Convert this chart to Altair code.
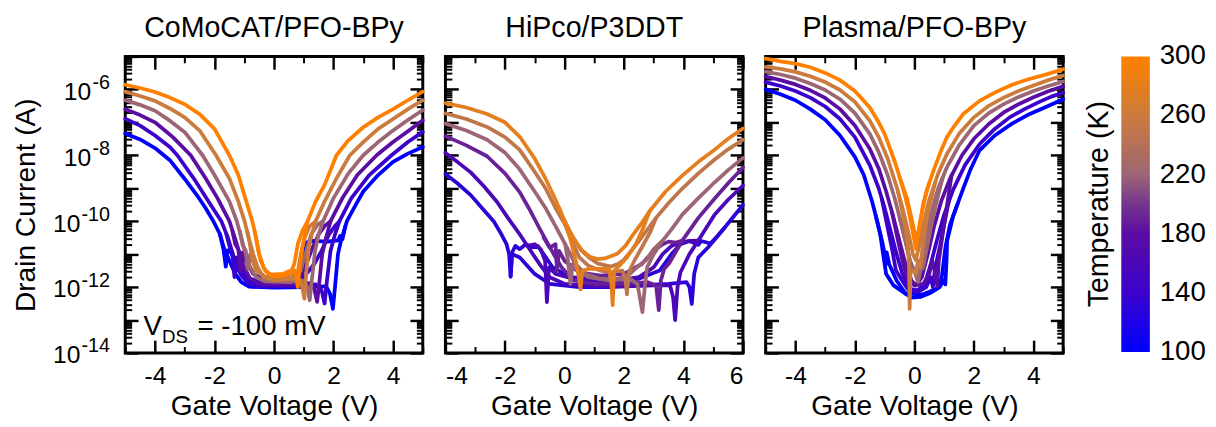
import altair as alt
import pandas as pd

FONT = "Liberation Sans, Arial, Helvetica, sans-serif"

# ---------------- colour scale (temperature, K) ----------------
TEMP_STOPS = [100, 140, 180, 200, 220, 260, 300]
TEMP_COLORS = ["#0000ff", "#3c02cc", "#5a0ca4", "#76358e", "#9c6674", "#cb7b3c", "#ff8000"]
# end labels nudged a hair inside the range so they are centred on the bar ends
LEGEND_VALUES = [100.001, 140, 180, 220, 260, 299.999]

# ---------------- axis tick values ----------------
Y_LABELS_ONE_DIGIT = [1e-8, 1e-6]
Y_LABELS_TWO_DIGIT = [1e-14, 1e-12, 1e-10]
Y_LABEL_VALS = [1e-14, 1e-12, 1e-10, 1e-8, 1e-6]
Y_MAJOR = [1e-14, 1e-13, 1e-12, 1e-11, 1e-10, 1e-9, 1e-8, 1e-7, 1e-6, 1e-5]
Y_MINOR = [k * 10.0 ** n for n in range(-14, -5) for k in range(2, 10)]
CMC_X_MAJOR = [-4, -2, 0, 2, 4]
CMC_X_MINOR = [-5, -3, -1, 1, 3, 5]
HIP_X_MAJOR = [-4, -2, 0, 2, 4, 6]
HIP_X_MINOR = [-3, -1, 1, 3, 5]
PLA_X_MAJOR = [-4, -2, 0, 2, 4]
PLA_X_MINOR = [-5, -3, -1, 1, 3, 5]

# annotation anchor (gate voltage, log10 current)
VDS_V = -4.39
VDS_LOGI = -13.45

# ================= Panel 1: CoMoCAT/PFO-BPy  (V_G, log10 I_D) =================
CMC_TEMPS = [100, 140, 180, 220, 260, 300]
CMC_100_A = [(-5.0, -7.34), (-4.5, -7.52), (-4.0, -7.78), (-3.5, -8.15), (-3.0, -8.72), (-2.6, -9.2),
             (-2.3, -9.6), (-2.04, -10.0), (-1.82, -10.39), (-1.69, -10.79), (-1.5, -11.2), (-1.3, -11.6),
             (-1.1, -11.85), (-0.84, -11.99), (0.0, -12.02), (1.0, -12.0), (1.75, -11.98), (1.88, -12.2),
             (1.98, -12.66), (2.06, -11.9), (2.15, -11.0), (2.25, -10.6), (2.35, -10.3), (2.45, -10.0),
             (2.75, -9.5), (3.0, -9.1), (3.5, -8.6), (4.0, -8.2), (4.5, -7.95), (5.0, -7.75)]
CMC_100_B = [(-1.82, -10.39), (-1.7, -10.85), (-1.62, -11.38), (-1.56, -10.9), (-1.48, -10.85), (-1.38, -11.1),
             (-1.2, -11.5), (-0.9, -11.8), (-0.4, -11.9), (0.5, -11.9), (0.9, -11.8), (1.0, -11.3),
             (1.08, -10.65), (1.3, -10.6), (1.8, -10.62), (2.15, -10.58), (2.22, -10.45), (2.3, -10.55), (2.4, -10.15)]
CMC_140_A = [(-5.0, -6.89), (-4.5, -7.1), (-4.0, -7.4), (-3.5, -7.75), (-3.25, -8.0), (-2.7, -8.7),
             (-2.2, -9.4), (-1.77, -10.0), (-1.55, -10.5), (-1.45, -10.8), (-1.3, -11.25), (-1.1, -11.65),
             (-0.85, -11.9), (-0.5, -11.98), (0.5, -11.97), (1.4, -11.92), (1.6, -12.1), (1.7, -12.5),
             (1.78, -11.8), (1.9, -10.9), (2.05, -10.4), (2.2, -10.0), (2.6, -9.3), (3.2, -8.6),
             (3.95, -8.0), (4.5, -7.6), (5.0, -7.29)]
CMC_140_B = [(-1.6, -10.4), (-1.5, -10.75), (-1.4, -10.95), (-1.33, -11.7), (-1.26, -11.1), (-1.15, -11.3),
             (-0.9, -11.7), (-0.5, -11.85), (0.6, -11.85), (1.0, -11.7), (1.35, -11.3), (1.6, -10.9),
             (1.85, -10.4), (2.05, -10.15), (2.2, -10.0)]
CMC_180_A = [(-5.0, -6.6), (-4.5, -6.78), (-4.0, -7.0), (-3.4, -7.45), (-2.8, -8.0), (-2.3, -8.7),
             (-1.9, -9.3), (-1.5, -10.0), (-1.3, -10.55), (-1.15, -11.0), (-1.0, -11.4), (-0.8, -11.75),
             (-0.5, -11.9), (0.5, -11.92), (1.2, -11.88), (1.35, -12.05), (1.45, -12.45), (1.53, -11.8),
             (1.62, -11.0), (1.75, -10.5), (1.9, -10.0), (2.3, -9.3), (2.8, -8.6), (3.45, -8.0),
             (4.0, -7.6), (4.5, -7.27), (5.0, -6.94)]
CMC_180_B = [(-1.4, -10.3), (-1.3, -10.7), (-1.2, -10.85), (-1.12, -11.5), (-1.05, -10.95), (-0.95, -11.2),
             (-0.7, -11.6), (-0.3, -11.8), (0.8, -11.8), (1.05, -11.4), (1.25, -10.9), (1.5, -10.4),
             (1.7, -10.15), (1.9, -10.0)]
CMC_220_A = [(-5.0, -6.33), (-4.5, -6.47), (-4.0, -6.65), (-3.5, -6.95), (-3.0, -7.3), (-2.4, -8.0),
             (-2.0, -8.6), (-1.5, -9.4), (-1.25, -10.0), (-1.1, -10.5), (-0.95, -11.0), (-0.8, -11.4),
             (-0.6, -11.7), (-0.3, -11.83), (0.5, -11.85), (1.0, -11.8), (1.12, -12.0), (1.2, -12.4),
             (1.28, -11.7), (1.38, -10.9), (1.5, -10.4), (1.65, -10.0), (2.0, -9.3), (2.5, -8.55),
             (3.0, -8.0), (3.5, -7.6), (4.0, -7.25), (4.5, -6.93), (5.0, -6.63)]
CMC_220_B = [(-1.15, -10.3), (-1.05, -10.75), (-0.95, -10.9), (-0.88, -11.45), (-0.8, -11.0), (-0.6, -11.45),
             (-0.3, -11.7), (0.6, -11.75), (0.9, -11.5), (1.05, -11.0), (1.25, -10.4), (1.45, -10.12), (1.65, -10.0)]
CMC_260_A = [(-5.0, -6.07), (-4.5, -6.2), (-4.0, -6.35), (-3.5, -6.58), (-3.0, -6.85), (-2.5, -7.25),
             (-1.95, -8.0), (-1.5, -8.7), (-1.2, -9.4), (-0.99, -10.0), (-0.85, -10.5), (-0.7, -11.0),
             (-0.55, -11.4), (-0.35, -11.7), (0.0, -11.8), (0.6, -11.75), (0.9, -11.8), (0.97, -12.1),
             (1.02, -12.35), (1.08, -11.6), (1.17, -10.8), (1.27, -10.4), (1.4, -10.0), (1.7, -9.4),
             (2.1, -8.7), (2.55, -8.0), (3.0, -7.6), (3.5, -7.2), (4.0, -6.9), (4.5, -6.6), (5.0, -6.33)]
CMC_260_B = [(-0.9, -10.3), (-0.8, -10.75), (-0.72, -11.2), (-0.6, -11.5), (-0.3, -11.7), (0.5, -11.65),
             (0.8, -11.55), (0.9, -11.0), (1.05, -10.45), (1.2, -10.15), (1.4, -10.0)]
CMC_300_A = [(-5.0, -5.86), (-4.5, -5.96), (-4.0, -6.08), (-3.5, -6.25), (-3.0, -6.45), (-2.5, -6.75),
             (-2.0, -7.2), (-1.5, -8.0), (-1.2, -8.6), (-1.0, -9.2), (-0.73, -10.0), (-0.6, -10.5),
             (-0.5, -11.0), (-0.35, -11.4), (-0.2, -11.6), (0.0, -11.68), (0.3, -11.65), (0.55, -11.58),
             (0.7, -11.5), (0.76, -11.75), (0.8, -12.0), (0.85, -11.5), (0.95, -10.8), (1.05, -10.35),
             (1.13, -10.0), (1.4, -9.4), (1.7, -8.9), (2.1, -8.0), (2.5, -7.55), (3.0, -7.15),
             (3.5, -6.85), (4.0, -6.6), (4.5, -6.33), (5.0, -6.07)]
CMC_300_B = [(-0.65, -10.3), (-0.55, -10.8), (-0.45, -11.2), (-0.3, -11.5), (-0.1, -11.62), (0.3, -11.6),
             (0.6, -11.48), (0.68, -11.3), (0.8, -10.7), (0.95, -10.3), (1.13, -10.0)]

# ================= Panel 2: HiPco/P3DDT =================
HIP_TEMPS = [130, 160, 190, 220, 250, 280]
HIP_130_A = [(-4.0, -8.57), (-3.6, -8.85), (-3.15, -9.21), (-2.75, -9.62), (-2.38, -10.0), (-2.15, -10.35),
             (-1.95, -10.69), (-1.86, -11.0), (-1.81, -11.68), (-1.76, -11.0), (-1.5, -11.1), (-1.0, -11.6),
             (-0.5, -11.9), (0.5, -12.0), (1.5, -12.0), (2.5, -11.95), (3.5, -11.9), (4.1, -11.85),
             (4.2, -12.0), (4.28, -12.51), (4.36, -11.6), (4.5, -11.1), (4.83, -10.79), (5.38, -10.2), (6.0, -9.51)]
HIP_130_B = [(-1.81, -11.68), (-1.76, -10.95), (-1.65, -10.75), (-1.5, -10.85), (-1.3, -10.7), (-1.1, -10.8),
             (-0.9, -10.75), (-0.7, -11.0), (-0.4, -11.4), (0.2, -11.7), (1.5, -11.8), (2.5, -11.75),
             (3.2, -11.5), (3.6, -11.0), (3.9, -10.7), (4.2, -10.6), (4.5, -10.72), (4.6, -10.6),
             (4.9, -10.68), (5.1, -10.5), (5.38, -10.2)]
HIP_160_A = [(-4.0, -7.93), (-3.6, -8.2), (-3.15, -8.52), (-2.7, -8.95), (-2.27, -9.41), (-1.9, -9.9),
             (-1.51, -10.39), (-1.07, -10.99), (-0.8, -11.35), (-0.5, -11.7), (0.0, -11.9), (1.0, -11.98),
             (2.0, -11.98), (3.0, -11.95), (3.55, -11.95), (3.65, -12.3), (3.72, -13.0), (3.8, -12.0),
             (3.9, -11.55), (4.2, -11.0), (4.5, -10.59), (5.05, -9.8), (5.5, -9.35), (6.0, -8.92)]
HIP_160_B = [(-1.25, -10.75), (-1.0, -10.7), (-0.8, -10.85), (-0.65, -11.2), (-0.59, -12.46), (-0.52, -11.4),
             (-0.3, -11.6), (0.5, -11.8), (1.5, -11.85), (2.5, -11.7), (3.0, -11.4), (3.3, -11.0),
             (3.6, -10.75), (3.9, -10.65), (4.2, -10.6), (4.5, -10.59)]
HIP_190_A = [(-4.0, -7.42), (-3.3, -7.7), (-2.6, -8.03), (-2.0, -8.55), (-1.51, -9.11), (-1.2, -9.6),
             (-0.85, -10.2), (-0.55, -10.7), (-0.31, -11.08), (-0.1, -11.4), (0.3, -11.8), (1.0, -11.9),
             (2.0, -11.9), (2.8, -11.85), (3.08, -11.95), (3.17, -12.7), (3.24, -11.8), (3.35, -11.45),
             (3.52, -11.28), (3.96, -10.59), (4.5, -9.9), (5.05, -9.31), (5.5, -8.85), (6.0, -8.37)]
HIP_190_B = [(-0.7, -10.5), (-0.5, -10.8), (-0.3, -10.7), (-0.25, -11.5), (-0.18, -10.9), (0.0, -11.2),
             (0.5, -11.55), (1.2, -11.65), (2.0, -11.6), (2.6, -11.3), (3.0, -10.9), (3.3, -10.7),
             (3.5, -10.62), (3.75, -10.65), (3.96, -10.59)]
HIP_220_A = [(-4.0, -7.04), (-3.3, -7.25), (-2.6, -7.53), (-2.0, -7.92), (-1.51, -8.42), (-1.0, -9.1),
             (-0.63, -9.61), (-0.3, -10.15), (0.02, -10.69), (0.35, -11.28), (0.7, -11.6), (1.2, -11.75),
             (1.8, -11.75), (2.2, -11.6), (2.5, -11.35), (2.75, -11.18), (3.0, -10.85), (3.3, -10.59),
             (3.6, -10.25), (3.96, -9.8), (4.5, -9.3), (5.05, -8.82), (5.5, -8.45), (6.0, -8.08)]
HIP_220_B = [(0.02, -10.69), (0.12, -11.2), (0.2, -11.9), (0.28, -11.3), (0.5, -11.55), (0.8, -11.7),
             (1.5, -11.8), (2.2, -11.75), (2.45, -11.9), (2.55, -12.4), (2.62, -12.76), (2.7, -12.0),
             (2.78, -11.4), (3.0, -11.0), (3.3, -10.59)]
HIP_250_A = [(-4.0, -6.73), (-3.3, -6.9), (-2.6, -7.14), (-2.0, -7.45), (-1.51, -7.83), (-1.0, -8.5),
             (-0.63, -9.01), (-0.3, -9.6), (0.02, -10.1), (0.3, -10.5), (0.57, -10.89), (0.85, -11.12),
             (1.11, -11.28), (1.55, -11.38), (1.8, -11.3), (1.99, -11.18), (2.2, -10.95), (2.43, -10.69),
             (2.75, -10.3), (3.08, -9.9), (3.5, -9.45), (3.96, -9.01), (4.5, -8.55), (5.05, -8.13),
             (5.5, -7.82), (6.0, -7.53)]
HIP_250_B = [(0.02, -10.1), (0.3, -10.7), (0.5, -11.1), (0.8, -11.35), (1.2, -11.5), (1.6, -11.55),
             (1.95, -11.5), (2.05, -11.8), (2.1, -12.22), (2.16, -11.55), (2.35, -11.2), (2.6, -10.8),
             (2.9, -10.3), (3.08, -9.9)]
HIP_280_A = [(-4.0, -6.42), (-3.3, -6.55), (-2.6, -6.75), (-2.0, -7.0), (-1.5, -7.44), (-1.0, -8.1),
             (-0.63, -8.72), (-0.3, -9.35), (-0.09, -9.8), (0.15, -10.25), (0.35, -10.59), (0.6, -10.9),
             (0.85, -11.08), (1.11, -11.15), (1.4, -11.12), (1.77, -10.99), (2.05, -10.75), (2.32, -10.39),
             (2.6, -10.05), (2.86, -9.7), (3.4, -9.1), (3.96, -8.62), (4.5, -8.2), (5.05, -7.83),
             (5.5, -7.5), (6.0, -7.19)]
HIP_280_B = [(-0.2, -9.56), (0.0, -10.0), (0.2, -10.55), (0.38, -11.2), (0.48, -11.7), (0.54, -12.07),
             (0.6, -11.5), (0.8, -11.45), (1.2, -11.45), (1.5, -11.45), (1.58, -11.9), (1.62, -12.55),
             (1.67, -11.5), (1.8, -11.4), (2.1, -11.1), (2.4, -10.7), (2.65, -10.2), (2.86, -9.7)]

# ================= Panel 3: Plasma/PFO-BPy =================
PLA_TEMPS = [100, 140, 180, 220, 260, 300]
PLA_100_A = [(-5.0, -6.0), (-4.5, -6.15), (-4.0, -6.33), (-3.5, -6.6), (-3.0, -6.92), (-2.5, -7.4),
             (-2.0, -8.05), (-1.7, -8.6), (-1.42, -9.41), (-1.25, -10.0), (-1.09, -10.59), (-1.02, -10.9),
             (-0.98, -11.38), (-0.93, -10.95), (-0.85, -11.3), (-0.6, -11.8), (-0.3, -12.2), (-0.1, -12.32),
             (0.2, -12.3), (0.55, -12.17), (0.85, -12.0), (0.98, -11.8), (1.04, -11.92), (1.08, -11.2),
             (1.1, -10.6), (1.3, -9.85), (1.64, -9.01), (1.9, -8.4), (2.19, -7.85), (2.7, -7.4),
             (3.28, -7.04), (3.8, -6.78), (4.38, -6.55), (5.0, -6.3)]
PLA_100_B = [(-1.3, -9.83), (-1.15, -10.4), (-1.05, -11.0), (-0.95, -11.6), (-0.7, -11.95), (-0.3, -12.2),
             (0.3, -12.22), (0.75, -12.05), (0.92, -11.7), (1.0, -11.1), (1.05, -10.75), (1.2, -10.1), (1.45, -9.48)]
PLA_140_A = [(-5.0, -5.78), (-4.5, -5.9), (-4.0, -6.05), (-3.5, -6.25), (-3.0, -6.52), (-2.5, -6.9),
             (-2.0, -7.45), (-1.5, -8.3), (-1.2, -9.0), (-1.0, -9.6), (-0.8, -10.3), (-0.6, -11.0),
             (-0.4, -11.6), (-0.15, -12.05), (0.1, -12.1), (0.35, -11.9), (0.55, -11.3), (0.75, -10.6),
             (1.0, -9.8), (1.3, -9.05), (1.7, -8.3), (2.2, -7.65), (2.7, -7.2), (3.2, -6.85),
             (3.7, -6.6), (4.2, -6.38), (4.6, -6.22), (5.0, -6.1)]
PLA_140_B = [(-1.1, -9.3), (-0.9, -10.2), (-0.75, -10.85), (-0.62, -11.5), (-0.45, -11.75), (-0.2, -12.1),
             (0.1, -12.15), (0.4, -12.0), (0.55, -11.7), (0.62, -12.0), (0.7, -11.4), (0.85, -10.8),
             (1.0, -10.1), (1.15, -9.42)]
PLA_180_A = [(-5.0, -5.61), (-4.5, -5.72), (-4.0, -5.85), (-3.5, -6.03), (-3.0, -6.26), (-2.5, -6.6),
             (-2.0, -7.1), (-1.5, -7.8), (-1.2, -8.4), (-0.95, -9.1), (-0.7, -9.9), (-0.5, -10.6),
             (-0.3, -11.3), (-0.1, -11.8), (0.05, -11.95), (0.25, -11.7), (0.45, -11.0), (0.65, -10.2),
             (0.9, -9.4), (1.2, -8.7), (1.6, -8.0), (2.0, -7.5), (2.5, -7.05), (3.0, -6.7),
             (3.5, -6.45), (4.0, -6.24), (4.5, -6.06), (5.0, -5.91)]
PLA_180_B = [(-0.75, -9.75), (-0.55, -10.6), (-0.4, -11.2), (-0.25, -11.7), (0.0, -11.95), (0.3, -11.9),
             (0.5, -11.6), (0.6, -11.2), (0.68, -11.5), (0.77, -11.97), (0.82, -11.2), (0.95, -10.4),
             (1.1, -9.5), (1.25, -8.6)]
PLA_220_A = [(-5.0, -5.46), (-4.5, -5.55), (-4.0, -5.66), (-3.5, -5.82), (-3.0, -6.02), (-2.5, -6.3),
             (-2.0, -6.72), (-1.5, -7.35), (-1.2, -7.9), (-0.9, -8.6), (-0.65, -9.35), (-0.45, -10.05),
             (-0.25, -10.8), (-0.1, -11.4), (0.05, -11.6), (0.2, -11.3), (0.35, -10.6), (0.55, -9.8),
             (0.8, -9.0), (1.1, -8.35), (1.5, -7.7), (2.0, -7.1), (2.5, -6.72), (3.0, -6.45),
             (3.5, -6.23), (4.0, -6.05), (4.5, -5.9), (5.0, -5.76)]
PLA_220_B = [(-0.5, -9.88), (-0.3, -10.6), (-0.15, -11.2), (0.0, -11.5), (0.12, -11.85), (0.2, -11.5),
             (0.3, -11.4), (0.4, -10.9), (0.6, -10.0), (0.8, -9.2), (0.95, -8.68)]
PLA_260_A = [(-5.0, -5.32), (-4.5, -5.38), (-4.0, -5.47), (-3.5, -5.6), (-3.0, -5.78), (-2.5, -6.02),
             (-2.0, -6.38), (-1.5, -6.95), (-1.2, -7.45), (-0.9, -8.1), (-0.6, -8.95), (-0.4, -9.6),
             (-0.2, -10.35), (-0.05, -11.0), (0.05, -11.18), (0.15, -10.8), (0.3, -10.1), (0.5, -9.35),
             (0.8, -8.55), (1.1, -7.95), (1.5, -7.35), (2.0, -6.85), (2.5, -6.5), (3.0, -6.25),
             (3.5, -6.05), (4.0, -5.88), (4.5, -5.72), (5.0, -5.58)]
PLA_260_B = [(-0.55, -9.11), (-0.35, -9.95), (-0.22, -10.7), (-0.18, -11.4), (-0.16, -12.66), (-0.13, -11.5),
             (-0.05, -11.5), (0.05, -11.6), (0.12, -11.2), (0.2, -11.4), (0.3, -10.6), (0.45, -9.75), (0.7, -8.82)]
PLA_300_A = [(-5.0, -5.07), (-4.5, -5.15), (-4.0, -5.22), (-3.5, -5.33), (-3.0, -5.5), (-2.5, -5.72),
             (-2.0, -6.05), (-1.5, -6.55), (-1.2, -7.0), (-1.0, -7.35), (-0.65, -8.22), (-0.4, -8.95),
             (-0.21, -9.61), (-0.08, -10.2), (0.0, -10.6), (0.05, -10.84), (0.12, -10.4), (0.22, -9.9),
             (0.4, -9.1), (0.66, -8.42), (0.9, -7.85), (1.1, -7.44), (1.32, -7.14), (1.64, -6.75),
             (2.19, -6.35), (2.7, -6.1), (3.28, -5.86), (3.8, -5.7), (4.38, -5.56), (5.0, -5.39)]
PLA_300_B = [(-0.5, -8.66), (-0.25, -9.3), (-0.1, -9.9), (0.02, -10.4), (0.1, -10.5), (0.18, -10.1),
             (0.3, -9.45), (0.5, -8.84)]

W, H = 302, 301
LABEL_PAD = 16
TICK_FS = 25
EXP_FS = 20
TITLE_FS = 28.5


def build(temps, a_lists, b_lists):
    rows = []
    for T, a, b in zip(temps, a_lists, b_lists):
        for br, pts in (("b", b), ("a", a)):
            for i, (v, lg) in enumerate(pts):
                rows.append({"T": T, "s": f"{T}{br}", "i": i, "V": v, "I": 10.0 ** lg})
    return pd.DataFrame(rows)


cmc_df = build(CMC_TEMPS, [CMC_100_A, CMC_140_A, CMC_180_A, CMC_220_A, CMC_260_A, CMC_300_A],
               [CMC_100_B, CMC_140_B, CMC_180_B, CMC_220_B, CMC_260_B, CMC_300_B])
hip_df = build(HIP_TEMPS, [HIP_130_A, HIP_160_A, HIP_190_A, HIP_220_A, HIP_250_A, HIP_280_A],
               [HIP_130_B, HIP_160_B, HIP_190_B, HIP_220_B, HIP_250_B, HIP_280_B])
pla_df = build(PLA_TEMPS, [PLA_100_A, PLA_140_A, PLA_180_A, PLA_220_A, PLA_260_A, PLA_300_A],
               [PLA_100_B, PLA_140_B, PLA_180_B, PLA_220_B, PLA_260_B, PLA_300_B])

color_scale = alt.Scale(domain=TEMP_STOPS, range=TEMP_COLORS, interpolate="rgb")
legend = alt.Legend(
    title="Temperature (K)", type="gradient", direction="vertical",
    gradientLength=300, gradientThickness=29, gradientStrokeWidth=0,
    values=LEGEND_VALUES, format="d", titleOrient="left", titleAnchor="middle",
    titleFontSize=29, titleFont=FONT, titleFontWeight="normal", titleColor="black",
    titleLimit=500, titlePadding=7, labelFontSize=28, labelFont=FONT, labelColor="black",
    labelOffset=10, offset=18, labelOverlap=False,
)

EXP_EXPR = ("datum.value < 1e-13 ? '-14' : datum.value < 1e-11 ? '-12' : "
            "datum.value < 1e-9 ? '-10' : datum.value < 1e-7 ? '-8' : '-6'")


def y_label_axis(values, expr, pad, size, offset, title=None):
    kw = dict(values=values, labelExpr=expr, ticks=False, tickSize=0, domain=False, grid=False,
              labelPadding=pad, labelFontSize=size, labelOffset=offset, orient="left")
    if title:
        kw.update(title=title, titlePadding=12, titleFontSize=TITLE_FS, titleFontWeight="normal")
    else:
        kw.update(title=None)
    return alt.Axis(**kw)


def panel(df, xdom, xmaj, xmin, title, first):
    xs = alt.Scale(domain=xdom, nice=False, zero=False)
    ys = alt.Scale(type="log", domain=[1e-14, 1e-5], nice=False)
    dummy = pd.DataFrame({"V": [xdom[0]], "I": [1e-10]})
    if first:
        y_enc = alt.Y("I:Q", scale=ys, axis=y_label_axis(Y_LABELS_ONE_DIGIT, "'10'", LABEL_PAD + 19, TICK_FS, 2))
    else:
        y_enc = alt.Y("I:Q", scale=ys, axis=None)
    lines = alt.Chart(df).mark_line(strokeWidth=3.8, strokeJoin="round", strokeCap="round").encode(
        x=alt.X("V:Q", scale=xs, axis=alt.Axis(values=xmaj, labelExpr="'' + datum.value", ticks=False,
                                                tickSize=0, domain=False, grid=False, labelPadding=11,
                                                labelFontSize=TICK_FS, title="Gate Voltage (V)",
                                                titlePadding=3, titleFontSize=TITLE_FS,
                                                titleFontWeight="normal")),
        y=y_enc,
        color=alt.Color("T:Q", scale=color_scale, legend=legend),
        detail="s:N",
        order="i:Q",
    )
    layers = [lines]
    for xo, yo, xv, yv, sz, w in [("top", "right", xmaj, Y_MAJOR, 13, 2.5),
                                  ("top", "right", xmin, Y_MINOR, 6.5, 2),
                                  ("bottom", "left", xmaj, Y_MAJOR, 13, 2.5),
                                  ("bottom", "left", xmin, Y_MINOR, 6.5, 2)]:
        layers.append(alt.Chart(dummy).mark_point(opacity=0).encode(
            x=alt.X("V:Q", scale=xs, axis=alt.Axis(orient=xo, offset=-H, values=xv, tickSize=sz,
                                                    tickWidth=w, tickColor="black", labels=False,
                                                    domain=False, grid=False, title=None)),
            y=alt.Y("I:Q", scale=ys, axis=alt.Axis(orient=yo, offset=-W, values=yv, tickSize=sz,
                                                    tickWidth=w, tickColor="black", labels=False,
                                                    domain=False, grid=False, title=None)),
        ))
    if first:
        # "10" for two-digit exponents (carries the axis title) and the exponents themselves
        layers.append(alt.Chart(dummy).mark_point(opacity=0).encode(
            x=alt.X("V:Q", scale=xs, axis=None),
            y=alt.Y("I:Q", scale=ys, axis=y_label_axis(Y_LABELS_TWO_DIGIT, "'10'", LABEL_PAD + 30, TICK_FS, 2,
                                                       title="Drain Current (A)")),
        ))
        layers.append(alt.Chart(dummy).mark_point(opacity=0).encode(
            x=alt.X("V:Q", scale=xs, axis=None),
            y=alt.Y("I:Q", scale=ys, axis=y_label_axis(Y_LABEL_VALS, EXP_EXPR, LABEL_PAD, EXP_FS, -7)),
        ))
        ann = pd.DataFrame({"V": [VDS_V], "I": [10.0 ** VDS_LOGI]})
        for txt, dx, dy, fs in [("V", 0, 0, 28), ("DS", 19, 8, 19), ("= -100 mV", 55, 0, 28)]:
            layers.append(alt.Chart(ann).mark_text(text=txt, align="left", baseline="alphabetic",
                                                   fontSize=fs, font=FONT, color="black", dx=dx, dy=dy).encode(
                x=alt.X("V:Q", scale=xs, axis=None),
                y=alt.Y("I:Q", scale=ys, axis=None),
            ))
    return alt.layer(*layers).resolve_axis(x="independent", y="independent").properties(
        width=W, height=H,
        title=alt.TitleParams(title, fontSize=29, font=FONT, fontWeight="normal", color="black",
                              anchor="middle", offset=12),
    )


p1 = panel(cmc_df, [-5, 5], CMC_X_MAJOR, CMC_X_MINOR, "CoMoCAT/PFO-BPy", True)
p2 = panel(hip_df, [-4, 6], HIP_X_MAJOR, HIP_X_MINOR, "HiPco/P3DDT", False)
p3 = panel(pla_df, [-5, 5], PLA_X_MAJOR, PLA_X_MINOR, "Plasma/PFO-BPy", False)

chart = alt.hconcat(p1, p2, p3, spacing=14).properties(
    padding={"left": 2, "top": 2, "right": 2, "bottom": 2}, background="white"
).configure_view(stroke="black", strokeWidth=3).configure_axis(
    labelFont=FONT, titleFont=FONT, labelColor="black", titleColor="black", titleFontWeight="normal"
)

chart.save("out.html", embed_options={"renderer": "svg", "actions": False})
